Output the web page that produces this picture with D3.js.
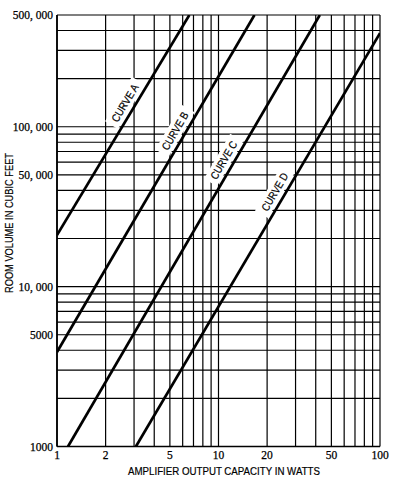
<!DOCTYPE html>
<html>
<head>
<meta charset="utf-8">
<script src="https://d3js.org/d3.v7.min.js"></script>
<style>
html,body{margin:0;padding:0;background:#fff;}
svg{display:block;}
.num{font-family:"Liberation Serif","DejaVu Serif",serif;font-size:11.5px;fill:#000;stroke:#000;stroke-width:0.25px;}
.ttl{font-family:"Liberation Sans Narrow","Liberation Sans",Arial,sans-serif;font-size:11px;fill:#000;stroke:#000;stroke-width:0.2px;}
</style>
</head>
<body>
<svg id="chart" width="396" height="480"></svg>
<script>
// grid positions (watts / cubic feet)
var wattGrid = [1,2,3,4,5,6,7,8,9,10,20,30,40,50,60,70,80,90,100];
var volGrid = [1000,2000,3000,4000,5000,6000,7000,8000,9000,10000,20000,30000,40000,50000,60000,70000,80000,90000,100000,200000,300000,400000,500000];

var wattTicks = [1,2,5,10,20,50,100];
var wattLabels = ["1","2","5","10","20","50","100"];
var volTicks = [1000,5000,10000,50000,100000,500000];
var volLabels = ["1000","5000","10, 000","50, 000","100, 000","500, 000"];

var curveNames = ["CURVE A","CURVE B","CURVE C","CURVE D"];
var curveA = [[1,21000],[6.6,500000]];
var curveB = [[1,3900],[16.7,500000]];
var curveC = [[1.17,1000],[42.4,500000]];
var curveD = [[3.08,1000],[100,385000]];
// volume at which each label sits along its curve
var labelVol = [131000,87500,57600,36400];

var svg = d3.select("#chart");
var pL = 57, pR = 380, pT = 15, pB = 446.5;

var x = d3.scaleLog().domain([1,100]).range([pL,pR]);
var y = d3.scaleLog().domain([1000,500000]).range([pB,pT]);

var g = svg.append("g");

g.selectAll(".vgrid")
	.data(wattGrid)
	.enter()
	.append("line")
	.attr("class","vgrid")
	.attr("x1",function(d){return x(d)})
	.attr("x2",function(d){return x(d)})
	.attr("y1",pT)
	.attr("y2",pB)
	.attr("stroke","#000")
	.attr("stroke-width",1.2);

g.selectAll(".hgrid")
	.data(volGrid)
	.enter()
	.append("line")
	.attr("class","hgrid")
	.attr("x1",pL)
	.attr("x2",pR)
	.attr("y1",function(d){return y(d)})
	.attr("y2",function(d){return y(d)})
	.attr("stroke","#000")
	.attr("stroke-width",1.2);

// heavier frame on the left and bottom
g.append("line").attr("x1",pL).attr("x2",pL).attr("y1",pT).attr("y2",pB)
	.attr("stroke","#000").attr("stroke-width",1.7);
g.append("line").attr("x1",pL).attr("x2",pR).attr("y1",pB).attr("y2",pB)
	.attr("stroke","#000").attr("stroke-width",1.7);

var curves = [curveA,curveB,curveC,curveD];

svg.append("clipPath").attr("id","plot").append("rect")
	.attr("x",pL).attr("y",pT).attr("width",pR-pL).attr("height",pB-pT);

var line = d3.line().x(function(d){return x(d[0])}).y(function(d){return y(d[1])});

// curve labels with white boxes
curves.forEach(function(c,i){
	var x0 = x(c[0][0]), y0 = y(c[0][1]), x1 = x(c[1][0]), y1 = y(c[1][1]);
	var ang = Math.atan2(y1-y0,x1-x0);
	var ly = y(labelVol[i]);
	var lx = x0 + (ly-y0)*(x1-x0)/(y1-y0);
	// shift perpendicular, up-left of the line
	var off = 10;
	var px = lx + off*Math.sin(ang);
	var py = ly - off*Math.cos(ang);
	var deg = ang*180/Math.PI;
	var lab = svg.append("g").attr("transform","translate("+px+","+py+") rotate("+deg+")");
	lab.append("rect").attr("x",-26).attr("y",-7.5).attr("width",52).attr("height",15).attr("fill","#fff");
	lab.append("text").attr("class","ttl")
		.attr("text-anchor","middle").attr("dy","0.36em")
		.attr("textLength",42).attr("lengthAdjust","spacingAndGlyphs")
		.text(curveNames[i]);
});

svg.append("g").attr("clip-path","url(#plot)")
	.selectAll("path")
	.data(curves)
	.enter()
	.append("path")
	.attr("d",line)
	.attr("fill","none")
	.attr("stroke","#000")
	.attr("stroke-width",2.7);

svg.selectAll(".xlab")
	.data(wattTicks)
	.enter()
	.append("text")
	.attr("class","num")
	.attr("x",function(d){return x(d)})
	.attr("y",pB+12)
	.attr("text-anchor","middle")
	.text(function(d,i){return wattLabels[i]});

svg.selectAll(".ylab")
	.data(volTicks)
	.enter()
	.append("text")
	.attr("class","num")
	.attr("x",pL-4)
	.attr("y",function(d){return y(d)})
	.attr("dy","0.35em")
	.attr("text-anchor","end")
	.text(function(d,i){return volLabels[i]});

svg.append("text").attr("class","ttl")
	.attr("x",224).attr("y",475)
	.attr("text-anchor","middle")
	.attr("textLength",192).attr("lengthAdjust","spacingAndGlyphs")
	.text("AMPLIFIER OUTPUT CAPACITY IN WATTS");

svg.append("text").attr("class","ttl")
	.attr("transform","translate(13,223) rotate(-90)")
	.attr("text-anchor","middle")
	.attr("textLength",140).attr("lengthAdjust","spacingAndGlyphs")
	.text("ROOM VOLUME IN CUBIC FEET");
</script>
</body>
</html>
